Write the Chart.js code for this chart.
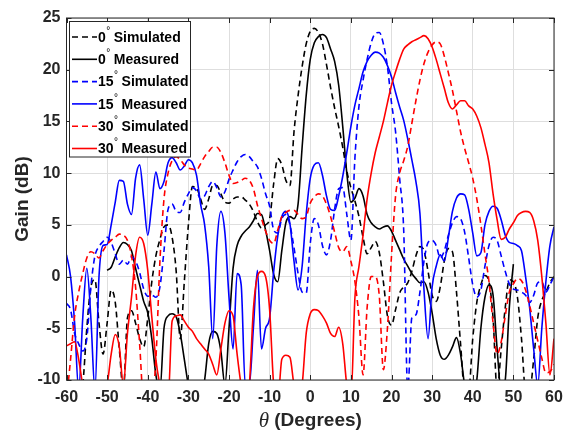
<!DOCTYPE html>
<html>
<head>
<meta charset="utf-8">
<script src="https://cdn.jsdelivr.net/npm/chart.js@4.4.1/dist/chart.umd.min.js"></script>
<style>
  body { margin: 0; background: #fff; }
  canvas { display: block; }
</style>
</head>
<body>
<canvas id="gainChart" width="567" height="433"></canvas>
<script>
// scan angle, degrees
const angles = [
  -60, -59, -58, -57, -56, -55, -54, -53, -52, -51,
  -50, -49, -48, -47, -46, -45, -44, -43, -42, -41,
  -40, -39, -38, -37, -36, -35, -34, -33, -32, -31,
  -30, -29, -28, -27, -26, -25, -24, -23, -22, -21,
  -20, -19, -18, -17, -16, -15, -14, -13, -12, -11,
  -10, -9, -8, -7, -6, -5, -4, -3, -2, -1,
  0, 1, 2, 3, 4, 5, 6, 7, 8, 9,
  10, 11, 12, 13, 14, 15, 16, 17, 18, 19,
  20, 21, 22, 23, 24, 25, 26, 27, 28, 29,
  30, 31, 32, 33, 34, 35, 36, 37, 38, 39,
  40, 41, 42, 43, 44, 45, 46, 47, 48, 49,
  50, 51, 52, 53, 54, 55, 56, 57, 58, 59,
  60
];

// gain in dB, one value per angle
const sim0 = [
  -13, -14, -13, -12, -10.5, -5, -1, -0.3, -4.5, -7.5,
  -4.5, -1.3, -2.5, -7, -11, -4, -3.3, -4.5, -6, -6.8,
  -4, -0.5, 2, 3.6, 4.8, 5, 3.8, 0.5, -6, -0.5,
  5, 8.7, 8.6, 7.5, 6.5, 7.5, 8.8, 8.8, 8, 7.2,
  7.1, 7.5, 7.7, 7.7, 7.4, 7, 6.3, 5.3, 4.7, 5,
  5.6, 9, 11.4, 10.8, 9.3, 8.8, 14, 17.5, 20.3, 22.5,
  23.7, 24, 23.6, 22.5, 20.5, 18.3, 16.3, 14.5, 12.5, 10.2,
  8.6, 7.3, 5.8, 3.8, 2.2, 2.8, 3.4, 2.3, -0.5, -3.8,
  -4.7, -3.2, -1.6, -1, -0.6, 0.5, 2, 2.9, 2.5, 0.5,
  -1.8, -2.4, -1, 1.5, 2.7, 2.4, -1.5, -6.5, -11, -11,
  -6, -2.5, -0.8, 0.1, -0.5, -4, -11, -7, -3, -0.3,
  -0.5, -2, -6, -11, -11, -8, -4, -2.3, -1.5, -0.6,
  0
];
const meas0 = [
  null, null, null, null, null, null, null, null, null, null,
  0.6, 0.9, 1.9, 2.8, 3.3, 3.1, 2.5, 0.8, -0.8, -2.4,
  -3.5, -6, -9.5, -11, -5, -3.8, -3.6, -3.9, -5.5, -8,
  -10.5, -12, -12, -12, -10, -6.5, -5.3, -5.5, -7.2, -10.5,
  -5, 0.8, 3, 3.9, 4.4, 4.8, 5.4, 6.1, 6, 4.5,
  2.5, 0.2, -0.5, 2.5, 5.2, 5.8, 5.6, 7, 12.5, 17.5,
  21, 22.6, 23.2, 23.4, 23.1, 22, 20.8, 18.5, 14.5, 10,
  7.2, 7.6, 8.5, 7.8, 6, 5.2, 4.8, 4.6, 4.8, 4.9,
  4.4, 3.5, 2.6, 1.7, 1, 0.3, -0.2, -0.6, -0.5, -1.5,
  -3.5, -6, -7.6, -8, -7.6, -6.8, -5.9, -7.5, -10.5, -12,
  -12, -10, -5, -2, -0.8, -1.8, -7, -11, -10, -3,
  1.2, null, null, null, null, null, null, null, null, null,
  null
];
const sim15 = [
  -2.6, -3.2, -5.5, -6.5, -7.2, -6, -1, 2, 2.9, 3.4,
  3.8, 3.3, 2.2, 1.2, 1.6, 1.2, 1.9, 1.5, 0.4, -1.2,
  -1.9, -1.8, -2, -1, 2.5, 6.5, 7, 6.3, 6.2, 7.2,
  8, 8.6, 8.3, 7.5, 7.8, 8.7, 9.2, 8.6, 7.7, 8.2,
  9.4, 10.3, 11.1, 11.6, 11.8, 11.6, 11.1, 10.6, 9.5, 8,
  6.8, 4.5, 4.2, 5.6, 6, 5, 2.8, 0.3, -1.5, -1.6,
  3.2, 5.6, 5, 3, 2.1, 3.5, 6.5, 8.5, 8.6, 6,
  3.5, 11.5, 16.5, 19, 21, 22.6, 23.5, 23.6, 22.5, 20.3,
  16.8, 14, 9.5, 4.5, -11, -4, -3.7, -1.5, 1.5, 3.3,
  3.5, 3, 1.8, 2.5, 4, 5.2, 5.8, 5.6, 4.3, 1.8,
  -0.8, -2, -1.3, 1, 3, 3.8, 3.5, 2, 0.5, -0.7,
  -1.2, -1.3, -1.5, -1.8, -2.5, -1.8, -0.6, -0.5, -1.5, -0.8,
  0
];
const meas15 = [
  2.1, 0, -4.5, -11, -4, 0.8, -4, -11, 0, 3,
  3.1, 5, 7.2, 9.3, 9.2, 7, 6, 9.5, 10.8, 7.5,
  4, 7, 10.1, 8.5, 9.2, 11, 11.5, 11, 10.3, 10.7,
  11.3, 11, 9.8, 7, 5, 1, -6, 3, 6.3, 4.2,
  -2, -7, 0.3, -0.8, -10.5, -10.5, -5, 0.6, -7, -5,
  -4, 0.5, 3.9, 5.8, 6.3, 5.1, 1.5, -1.3, 1, 6,
  9.5, 10.8, 11, 9.8, 7.8, 6.5, 6.4, 7.8, 9.7, 12,
  14.5, 16.6, 18.2, 19.8, 20.8, 21.4, 21.7, 21.6, 21.2, 20.4,
  19.3, 17.8, 16.4, 15.1, 13.3, 11.3, 9.2, 6.1, -1.3, -6,
  -1, 1, 2.1, 1.5, 3.8, 6.3, 7.6, 8, 7.9, 6.5,
  4.2, 2, 2.3, 5, 6.3, 6.8, 6.6, 5.5, 4, 3.3,
  3.2, 3, 2.5, 0, -3, -7, -10.5, -5, -0.5, 3,
  4.8
];
const sim30 = [
  -12, -8, -3.8, -1.5, 0.3, 1.8, 2.4, 2.2, 1.8, 2.5,
  3.1, 3.5, 3.8, 4.1, 4, 3.5, 2, -1, -6.5, -12,
  -12, -12, -8, 1.5, 7.5, 10, 11.2, 11.6, 11.3, 10.8,
  10.5, 10.4, 10.3, 10.9, 11.6, 12.1, 12.5, 12.5, 12, 11,
  9.8, 9, 9.1, 9.3, 9.5, 9.3, 8.5, 6.9, 5.6, 4.4,
  3.5, 3.2, 4.5, 5.8, 6.2, 6.4, 6.4, 6, 5.6, 5.8,
  7.1, 7.7, 8, 7.8, 7, 5.8, 4.3, 2.8, 2.4, 2.9,
  1.5, -0.5, -4, -9.5, -3, 0, 0, -1.9, -9, -5,
  2, 7.8, 10, 11.2, 12.6, 14.8, 17, 19, 20.6, 21.7,
  22.4, 22.7, 22.5, 21.3, 19.7, 18, 16, 14, 12.4, 11,
  9.5, 7.5, 5, 2.2, -0.5, -4.5, -7.5, -6.3, -3.8, -1.5,
  -0.7, -0.2, -0.4, -1.3, -2.8, -4.5, -6.2, -7.9, -9.3, -9.2,
  -8.5
];
const meas30 = [
  -6.7, -6.5, -6.3, -8, -10.5, -12, -12, -12, -12, -12,
  -10.5, -7.5, -5.6, -6.8, -10.5, -5.5, -2, 2, 3.8, 3.2,
  0.6, -3.9, -8, -10.5, -12, -12, -4.3, -3.8, -3.7, -4.3,
  -4.9, -5.3, -6, -6.5, -7, -7.5, -8.5, -9.5, -7, -4.5,
  -3.3, -3.8, -7.5, -10.5, -12, -10.5, -3.2, 0, 0.5, 0,
  -3.2, -10.5, -12, -8, -7.6, -7.8, -10.5, -12, -10.5, -5.5,
  -3.6, -3.2, -3.3, -3.8, -4.5, -5.5, -5.8, -4.9, -6.5, -10.5,
  -12, -2, 1, 4, 7.5, 10, 12, 13.5, 15, 16.8,
  18.5, 19.8, 21, 22, 22.4, 22.7, 22.9, 23.1, 23.3, 23,
  22.2, 21, 19.6, 18.2, 16.8, 16.2, 16.6, 17, 17, 16.5,
  16.2, 15.5, 14.4, 12.8, 11, 8, 5.5, 3.6, 3.8, 4.6,
  5.2, 5.9, 6.2, 6.3, 6.2, 5.4, 3.5, 0, -4.5, -9.5,
  -6
];

const seriesNames = ['0° Simulated', '0° Measured', '15° Simulated', '15° Measured', '30° Simulated', '30° Measured'];
const xTicks = [-60, -50, -40, -30, -20, -10, 0, 10, 20, 30, 40, 50, 60];
const yTicks = [-10, -5, 0, 5, 10, 15, 20, 25];

const axisColor = '#262626';
const sans = '"Liberation Sans", Arial, sans-serif';
const dash = [6, 4];

function series(values, i, color, dashed) {
    return {
        label: seriesNames[i],
        data: angles.map((a, k) => ({ x: a, y: values[k] })),
        borderColor: color,
        borderWidth: 1.6,
        borderDash: dashed ? dash : [],
        pointRadius: 0,
        cubicInterpolationMode: 'monotone',
        spanGaps: false,
        order: 5 - i,
    };
}

// box, inward ticks, x title and legend, MATLAB style
const framePlugin = {
    id: 'frame',
    afterDraw(chart) {
        const { ctx, chartArea: a, scales: { x, y } } = chart;
        ctx.save();
        ctx.strokeStyle = axisColor;
        ctx.lineWidth = 1;
        ctx.setLineDash([]);
        ctx.strokeRect(a.left, a.top, a.right - a.left, a.bottom - a.top);
        ctx.beginPath();
        xTicks.forEach(v => {
            const px = Math.round(x.getPixelForValue(v)) + 0.5;
            ctx.moveTo(px, a.bottom); ctx.lineTo(px, a.bottom - 5);
            ctx.moveTo(px, a.top); ctx.lineTo(px, a.top + 5);
        });
        yTicks.forEach(v => {
            const py = Math.round(y.getPixelForValue(v)) + 0.5;
            ctx.moveTo(a.left, py); ctx.lineTo(a.left + 5, py);
            ctx.moveTo(a.right, py); ctx.lineTo(a.right - 5, py);
        });
        ctx.stroke();

        // x axis title: italic theta + bold text
        const cx = (a.left + a.right) / 2, ty = 421;
        ctx.fillStyle = axisColor;
        ctx.textBaseline = 'middle';
        ctx.font = 'italic 21px "Liberation Serif", serif';
        const thW = ctx.measureText('θ').width;
        ctx.font = 'bold 19px ' + sans;
        const restW = ctx.measureText(' (Degrees)').width;
        const sx = cx - (thW + restW) / 2;
        ctx.font = 'italic 21px "Liberation Serif", serif';
        ctx.textAlign = 'left';
        ctx.fillText('θ', sx, ty);
        ctx.font = 'bold 19px ' + sans;
        ctx.fillText(' (Degrees)', sx + thW, ty);

        // legend
        const lx = 69.5, ly = 21.5, lw = 121, lh = 135.5;
        ctx.fillStyle = '#fff';
        ctx.fillRect(lx, ly, lw, lh);
        ctx.strokeStyle = axisColor;
        ctx.lineWidth = 1;
        ctx.strokeRect(lx, ly, lw, lh);
        chart.data.datasets.forEach((ds, i) => {
            const cy = 37 + i * 22.3;
            ctx.strokeStyle = ds.borderColor;
            ctx.lineWidth = 1.6;
            ctx.setLineDash(ds.borderDash);
            ctx.beginPath();
            ctx.moveTo(72, cy); ctx.lineTo(97, cy);
            ctx.stroke();
            ctx.setLineDash([]);
            const [num, rest] = ds.label.split('°');
            ctx.fillStyle = '#000';
            ctx.font = 'bold 14px ' + sans;
            ctx.fillText(num, 98, cy + 1);
            const w = ctx.measureText(num).width;
            ctx.font = '10px ' + sans;
            ctx.fillText('°', 98 + w + 0.5, cy - 6);
            ctx.font = 'bold 14px ' + sans;
            ctx.fillText(rest.trim(), 98 + w + 8, cy + 1);
        });
        ctx.restore();
    }
};

new Chart(document.getElementById('gainChart'), {
    type: 'line',
    data: {
        datasets: [
            series(sim0, 0, '#000000', true),
            series(meas0, 1, '#000000', false),
            series(sim15, 2, '#0000ff', true),
            series(meas15, 3, '#0000ff', false),
            series(sim30, 4, '#ff0000', true),
            series(meas30, 5, '#ff0000', false),
        ]
    },
    options: {
        responsive: false,
        animation: false,
        layout: { padding: { top: 18, right: 13, bottom: 0, left: 0 } },
        plugins: { legend: { display: false }, tooltip: { enabled: false } },
        scales: {
            x: {
                type: 'linear',
                min: -60,
                max: 60,
                afterBuildTicks: s => { s.ticks = xTicks.map(v => ({ value: v })); },
                afterFit: s => { s.height = 53; s.paddingLeft = 0; s.paddingRight = 0; },
                grid: { color: '#dedede', drawTicks: false },
                border: { display: false },
                ticks: {
                    padding: 8,
                    color: axisColor,
                    font: { family: sans, size: 16, weight: 'bold' },
                    maxRotation: 0,
                },
            },
            y: {
                min: -10,
                max: 25,
                afterBuildTicks: s => { s.ticks = yTicks.map(v => ({ value: v })); },
                afterFit: s => { s.width = 66.5; s.paddingTop = 0; s.paddingBottom = 0; },
                grid: { color: '#dedede', drawTicks: false },
                border: { display: false },
                ticks: {
                    padding: 6,
                    color: axisColor,
                    font: { family: sans, size: 16, weight: 'bold' },
                },
                title: {
                    display: true,
                    text: 'Gain (dB)',
                    color: axisColor,
                    font: { family: sans, size: 19, weight: 'bold' },
                    padding: { top: 11, bottom: 0 },
                },
            },
        },
    },
    plugins: [framePlugin],
});
</script>
</body>
</html>
